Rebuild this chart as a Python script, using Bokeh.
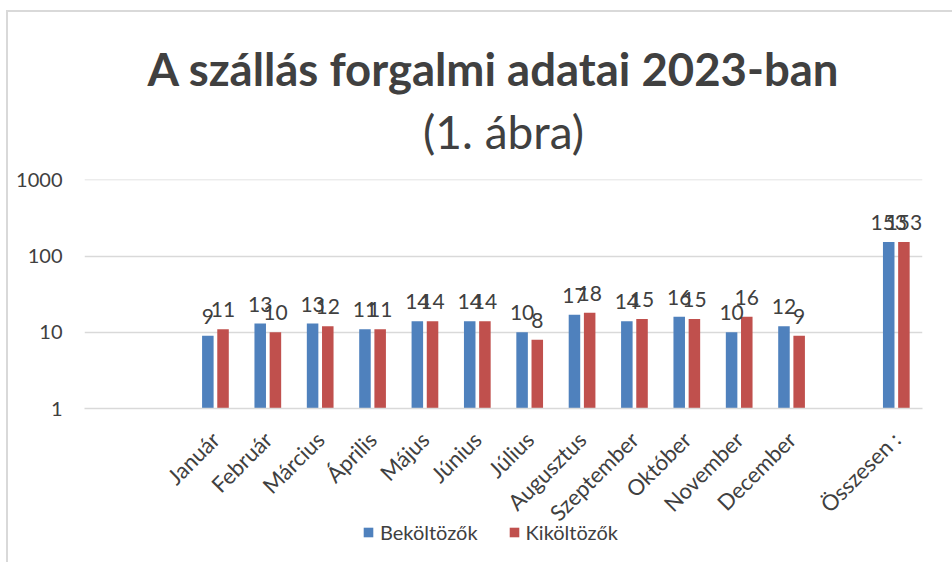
from bokeh.plotting import figure
from bokeh.models import (FactorRange, ColumnDataSource, FixedTicker, NumeralTickFormatter,
                          Title, Legend, LegendItem, InlineStyleSheet)
from bokeh.layouts import column
from bokeh.transform import dodge
from bokeh.embed import file_html
from bokeh.resources import INLINE
from bokeh.core.properties import value
import math

# ---- data ----
categories = [" ", "  ", "Január", "Február", "Március", "Április", "Május", "Június",
              "Július", "Augusztus", "Szeptember", "Október", "November", "December",
              "   ", "Összesen :"]
data_categories = ["Január", "Február", "Március", "Április", "Május", "Június",
                   "Július", "Augusztus", "Szeptember", "Október", "November", "December",
                   "Összesen :"]
bekoltozok = [9, 13, 13, 11, 14, 14, 10, 17, 14, 16, 10, 12, 153]
kikoltozok = [11, 10, 12, 11, 14, 14, 8, 18, 15, 15, 16, 9, 153]
y_ticks = [1, 10, 100, 1000]
series_names = ["Beköltözők", "Kiköltözők"]

BLUE = "#4F81BD"
RED = "#C0504D"
TXT = "#404040"
GRID = "#D9D9D9"
FONT = "Lato"

src = ColumnDataSource(dict(
    cat=data_categories,
    bek=bekoltozok,
    kik=kikoltozok,
    bek_lbl=[str(v) for v in bekoltozok],
    kik_lbl=[str(v) for v in kikoltozok],
))

p = figure(width=936, height=538, x_range=FactorRange(*categories),
           y_axis_type="log", y_range=(1, 1012),
           output_backend="svg", toolbar_location=None,
           min_border_left=84, min_border_right=14, min_border_top=179, min_border_bottom=129)

p.vbar(x=dodge("cat", -0.145, range=p.x_range), top="bek", bottom=1, width=0.22,
       source=src, fill_color=BLUE, line_color=None)
p.vbar(x=dodge("cat", 0.145, range=p.x_range), top="kik", bottom=1, width=0.22,
       source=src, fill_color=RED, line_color=None)

lbl_kw = dict(source=src, text_align="center", text_baseline="bottom", y_offset=-12,
              text_font=value(FONT), text_font_size="21px", text_color=TXT)
p.text(x=dodge("cat", -0.145, range=p.x_range), y="bek", text="bek_lbl", **lbl_kw)
p.text(x=dodge("cat", 0.145, range=p.x_range), y="kik", text="kik_lbl", **lbl_kw)

# axes
p.yaxis.ticker = FixedTicker(ticks=y_ticks)
p.yaxis.formatter = NumeralTickFormatter(format="0")
p.yaxis.axis_line_color = None
p.yaxis.major_tick_line_color = None
p.yaxis.minor_tick_line_color = None
p.yaxis.major_label_text_font = FONT
p.yaxis.major_label_text_font_size = "20px"
p.yaxis.major_label_text_color = TXT
p.yaxis.major_label_standoff = 16

p.xaxis.axis_line_color = GRID
p.xaxis.axis_line_width = 1.5
p.xaxis.major_tick_line_color = None
p.xaxis.minor_tick_line_color = None
p.xaxis.major_label_orientation = math.pi / 4
p.xaxis.major_label_text_font = FONT
p.xaxis.major_label_text_font_size = "22px"
p.xaxis.major_label_text_color = TXT
p.xaxis.major_label_standoff = 21

p.xgrid.grid_line_color = None
p.ygrid.ticker = FixedTicker(ticks=y_ticks)
p.ygrid.grid_line_color = GRID
p.ygrid.grid_line_width = 1.5
p.outline_line_color = None

# titles (a thin spacer sits between the frame and the subtitle)
p.add_layout(Title(text=" ", text_font_size="1px", standoff=12), "above")
p.add_layout(Title(text="(1. ábra)", align="center", text_font=FONT,
                   text_font_style="normal", text_font_size="46px", text_color=TXT,
                   standoff=8, vertical_align="top"), "above")
p.title = Title(text="A szállás forgalmi adatai 2023-ban", align="left",
                text_font=FONT, text_font_style="bold", text_font_size="45.5px",
                text_color=TXT, offset=63, standoff=3, vertical_align="top")

# legend in a transparent strip overlapping the bottom of the chart
lg = figure(width=936, height=36, x_range=p.x_range, y_range=(1000, 2000),
            output_backend="svg", toolbar_location=None, min_border=0,
            background_fill_alpha=0, border_fill_alpha=0)
lg.margin = (-28, 0, 0, 0)
lg.axis.visible = False
lg.grid.grid_line_color = None
lg.outline_line_color = None
d1 = lg.vbar(x=dodge("cat", -0.145, range=p.x_range), top="bek", bottom=0, width=0,
             source=src, fill_color=BLUE, line_color=None)
d2 = lg.vbar(x=dodge("cat", 0.145, range=p.x_range), top="kik", bottom=0, width=0,
             source=src, fill_color=RED, line_color=None)
legend = Legend(items=[LegendItem(label=series_names[0], renderers=[d1]),
                       LegendItem(label=series_names[1], renderers=[d2])],
                orientation="horizontal", location=(278, 2),
                label_text_font=FONT, label_text_font_size="20px", label_text_color=TXT,
                glyph_width=12, glyph_height=12, padding=0, margin=0, spacing=30,
                label_standoff=6, border_line_color=None, background_fill_alpha=0)
lg.add_layout(legend)

frame_css = InlineStyleSheet(css=(
    ":host { position: relative; }"
    ":host::after { content: ''; position: absolute; left: 6px; top: 10px; right: -20px;"
    " bottom: -20px; border-left: 2px solid #D9D9D9; border-top: 2px solid #D9D9D9;"
    " pointer-events: none; z-index: 10; }"
))

layout = column(p, lg, spacing=0, stylesheets=[frame_css])
open("out.html", "w").write(file_html(layout, INLINE))
